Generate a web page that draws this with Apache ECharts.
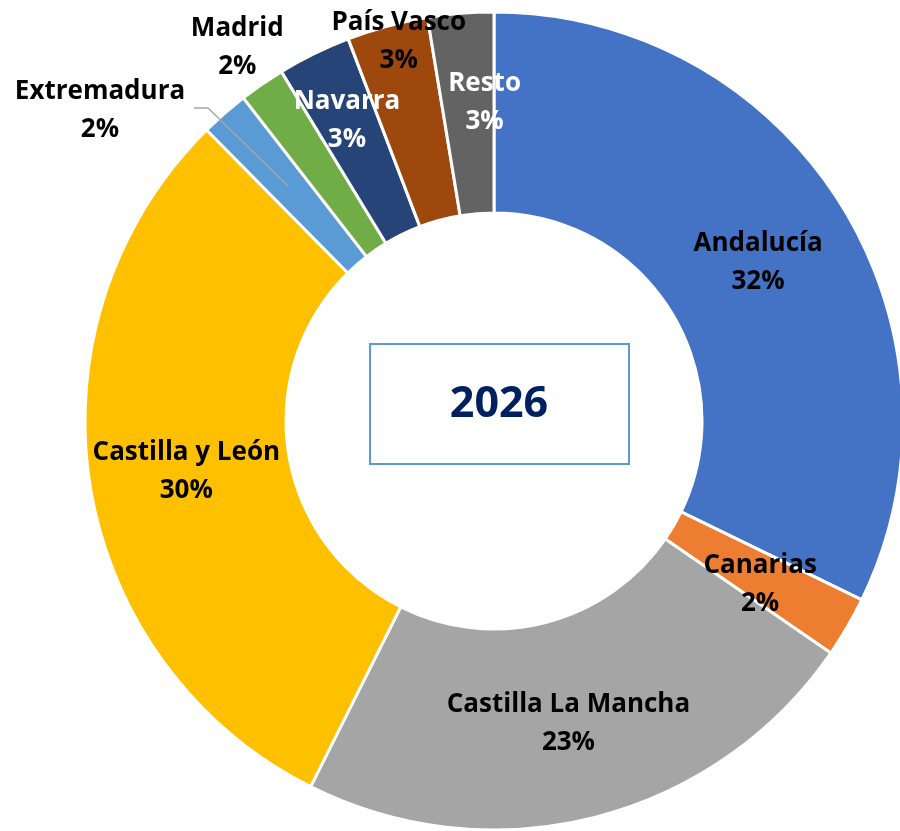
<!DOCTYPE html>
<html>
<head>
<meta charset="utf-8">
<script src="https://cdn.jsdelivr.net/npm/echarts@6/dist/echarts.min.js"></script>
<style>
  html, body { margin: 0; padding: 0; background: #fff; }
  #chart { width: 900px; height: 831px; }
</style>
</head>
<body>
<div id="chart"></div>
<script>
const regiones = ['Andalucía', 'Canarias', 'Castilla La Mancha', 'Castilla y León', 'Extremadura', 'Madrid', 'Navarra', 'País Vasco', 'Resto']
const cuotas = [32.2, 2.4, 22.8, 30.2, 1.9, 1.8, 2.9, 3.2, 2.6]
const colores = ['#4472C4', '#ED7D31', '#A5A5A5', '#FFC000', '#5B9BD5', '#70AD47', '#264478', '#9E480E', '#636363']
const anio = '2026'

// label tweaks (layout only)
const centro = [494, 421]
const radios = [208, 409]
const textoBlanco = ['Navarra', 'Resto']
const empujes = {
  'Andalucía': [0, 7],
  'Canarias': [-3, 7],
  'Castilla La Mancha': [-3, 1],
  'Castilla y León': [0, 2],
  'Madrid': [-80, -117],
  'Navarra': [-10, -21],
  'País Vasco': [-14, -79],
  'Resto': [16, -8]
}

const total = cuotas.reduce((a, b) => a + b, 0)
function anguloMedio(i) {
  let acum = 0
  for (let k = 0; k < i; k++) acum += cuotas[k]
  return (acum + cuotas[i] / 2) / total * Math.PI * 2
}

// leader line for Extremadura, from the middle of its slice out to its label
const iExt = regiones.indexOf('Extremadura')
const aExt = anguloMedio(iExt)
const guia = [
  [194, 108],
  [208, 108],
  [centro[0] + 312 * Math.sin(aExt), centro[1] - 312 * Math.cos(aExt)]
]

const chart = echarts.init(document.getElementById('chart'))
chart.setOption({
  animation: false,
  series: [{
    type: 'pie',
    center: centro,
    radius: radios,
    startAngle: 90,
    clockwise: true,
    avoidLabelOverlap: false,
    percentPrecision: 0,
    itemStyle: { borderColor: '#fff', borderWidth: 3 },
    label: {
      position: 'inside',
      formatter: '{b}\n{d}%',
      fontFamily: 'Open Sans',
      fontWeight: 'bold',
      fontSize: 26,
      lineHeight: 38,
      color: '#000',
      align: 'center'
    },
    labelLine: { show: false },
    labelLayout: function (p) {
      if (p.dataIndex === iExt) {
        return { x: 100, y: 111, align: 'center', verticalAlign: 'middle' }
      }
      const d = empujes[regiones[p.dataIndex]] || [0, 0]
      return { dx: d[0], dy: d[1] }
    },
    data: regiones.map((n, i) => ({
      name: n,
      value: cuotas[i],
      itemStyle: { color: colores[i] },
      label: { color: textoBlanco.includes(n) ? '#fff' : '#000' }
    }))
  }],
  graphic: [{
    type: 'polyline',
    z: 100,
    shape: { points: guia },
    style: { stroke: '#A6A6A6', lineWidth: 1.3, fill: null }
  }, {
    type: 'rect',
    shape: { x: 370, y: 344, width: 259, height: 120 },
    style: { fill: '#fff', stroke: '#5B9BD5', lineWidth: 2 }
  }, {
    type: 'text',
    x: 499, y: 405,
    style: {
      text: anio,
      fill: '#002060',
      font: 'bold 43px "Open Sans"',
      textAlign: 'center',
      textVerticalAlign: 'middle'
    }
  }]
})
</script>
</body>
</html>
